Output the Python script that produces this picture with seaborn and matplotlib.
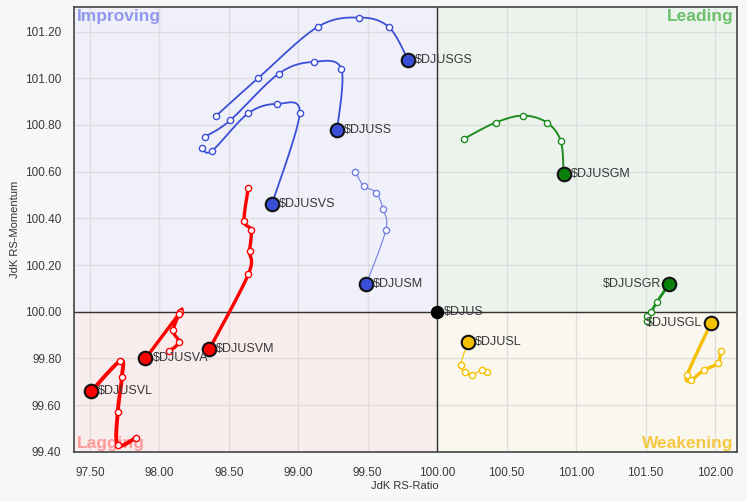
import numpy as np
import pandas as pd
import matplotlib
matplotlib.use("Agg")
import matplotlib.pyplot as plt
from matplotlib.patches import Rectangle
import seaborn as sns

# tails: oldest point first, head (latest) last
gs_x = [98.41, 98.71, 99.14, 99.44, 99.65, 99.79]
gs_y = [100.84, 101.00, 101.22, 101.26, 101.22, 101.08]
ss_x = [98.33, 98.51, 98.86, 99.11, 99.31, 99.28]
ss_y = [100.75, 100.82, 101.02, 101.07, 101.04, 100.78]
vs_x = [98.31, 98.38, 98.64, 98.85, 99.01, 98.81]
vs_y = [100.70, 100.69, 100.85, 100.89, 100.85, 100.46]
m_x = [99.41, 99.47, 99.56, 99.61, 99.63, 99.49]
m_y = [100.60, 100.54, 100.51, 100.44, 100.35, 100.12]
vm_x = [98.64, 98.61, 98.66, 98.65, 98.64, 98.36]
vm_y = [100.53, 100.39, 100.35, 100.26, 100.16, 99.84]
va_x = [98.07, 98.14, 98.10, 98.15, 98.14, 97.90]
va_y = [99.83, 99.87, 99.92, 100.00, 99.99, 99.80]
vl_x = [97.83, 97.70, 97.70, 97.73, 97.72, 97.51]
vl_y = [99.46, 99.43, 99.57, 99.72, 99.79, 99.66]
gm_x = [100.19, 100.42, 100.62, 100.79, 100.89, 100.91]
gm_y = [100.74, 100.81, 100.84, 100.81, 100.73, 100.59]
gr_x = [101.51, 101.51, 101.54, 101.58, 101.67]
gr_y = [99.96, 99.98, 100.00, 100.04, 100.12]
gl_x = [102.04, 102.02, 101.92, 101.83, 101.80, 101.97]
gl_y = [99.83, 99.78, 99.75, 99.71, 99.73, 99.95]
l_x = [100.36, 100.32, 100.25, 100.20, 100.17, 100.22]
l_y = [99.74, 99.75, 99.73, 99.74, 99.77, 99.87]
bench_x = [100.0]
bench_y = [100.0]

# name, x, y, line colour, head colour, line width, label side
series = [
    ("$DJUSGS", gs_x, gs_y, "#3b4fd6", "#3b4fd6", 1.3, "right"),
    ("$DJUSS", ss_x, ss_y, "#3b4fd6", "#3b4fd6", 1.3, "right"),
    ("$DJUSVS", vs_x, vs_y, "#3b4fd6", "#3b4fd6", 1.3, "right"),
    ("$DJUSM", m_x, m_y, "#6f7fe4", "#3b4fd6", 0.8, "right"),
    ("$DJUSVM", vm_x, vm_y, "#ff0000", "#ff0000", 2.4, "right"),
    ("$DJUSVA", va_x, va_y, "#ff0000", "#ff0000", 2.4, "right"),
    ("$DJUSVL", vl_x, vl_y, "#ff0000", "#ff0000", 2.8, "right"),
    ("$DJUSGM", gm_x, gm_y, "#1e8c1e", "#0a800a", 1.4, "right"),
    ("$DJUSGR", gr_x, gr_y, "#1e8c1e", "#0a800a", 2.0, "left"),
    ("$DJUSGL", gl_x, gl_y, "#f5c000", "#f5c000", 2.4, "left"),
    ("$DJUSL", l_x, l_y, "#f5c000", "#f5c000", 0.8, "right"),
]


def smooth(xs, ys, n=20):
    # catmull-rom spline through the tail points
    p = np.column_stack([xs, ys])
    p = np.vstack([p[0], p, p[-1]])
    out = []
    for i in range(1, len(p) - 2):
        p0, p1, p2, p3 = p[i - 1], p[i], p[i + 1], p[i + 2]
        for t in np.linspace(0, 1, n, endpoint=False):
            t2, t3 = t * t, t * t * t
            out.append(0.5 * ((2 * p1) + (-p0 + p2) * t + (2 * p0 - 5 * p1 + 4 * p2 - p3) * t2
                              + (-p0 + 3 * p1 - 3 * p2 + p3) * t3))
    out.append(p[-2])
    out = np.array(out)
    return out[:, 0], out[:, 1]


sns.set_theme(style="white")
plt.rcParams["font.family"] = ["Liberation Sans", "DejaVu Sans"]

fig = plt.figure(figsize=(7.47, 5.01), dpi=100, facecolor="#f6f7f9")
ax = fig.add_axes([0.099, 0.098, 0.887, 0.888])

xmin, xmax, ymin, ymax = 97.385, 102.155, 99.40, 101.305
cx, cy = bench_x[0], bench_y[0]
quads = [
    (xmin, cy, cx - xmin, ymax - cy, "#eff0f9"),
    (cx, cy, xmax - cx, ymax - cy, "#ecf3ed"),
    (xmin, ymin, cx - xmin, cy - ymin, "#f9ecec"),
    (cx, ymin, xmax - cx, cy - ymin, "#faf7ef"),
]
for qx, qy, qw, qh, qc in quads:
    ax.add_patch(Rectangle((qx, qy), qw, qh, facecolor=qc, edgecolor="none", zorder=0))

ax.set_xlim(xmin, xmax)
ax.set_ylim(ymin, ymax)
ax.set_xticks(np.arange(97.5, 102.01, 0.5))
ax.set_yticks(np.arange(99.4, 101.21, 0.2))
ax.xaxis.set_major_formatter(plt.FormatStrFormatter("%.2f"))
ax.yaxis.set_major_formatter(plt.FormatStrFormatter("%.2f"))
ax.grid(True, color="#dedede", linewidth=1, zorder=1)
ax.set_axisbelow(True)
ax.tick_params(length=0, labelsize=8.5, labelcolor="#3a3a3a")
ax.tick_params(axis="x", pad=11)
ax.tick_params(axis="y", pad=9)
for s in ax.spines.values():
    s.set_color("#444444")
    s.set_linewidth(1.2)

ax.axhline(cy, color="#333333", linewidth=1.0, zorder=2)
ax.axvline(cx, color="#333333", linewidth=1.0, zorder=2)

qfont = dict(fontsize=12.5, fontweight="bold")
ax.text(xmin + 0.02, ymax - 0.01, "Improving", color="#8f98ec", va="top", ha="left", **qfont)
ax.text(xmax - 0.02, ymax - 0.01, "Leading", color="#6cc06c", va="top", ha="right", **qfont)
ax.text(xmin + 0.02, ymin + 0.005, "Lagging", color="#ff9a9a", va="bottom", ha="left", **qfont)
ax.text(xmax - 0.02, ymin + 0.005, "Weakening", color="#f5c842", va="bottom", ha="right", **qfont)

for name, xs, ys, lc, hc, lw, side in series:
    sx, sy = smooth(xs, ys)
    curve = pd.DataFrame({"x": sx, "y": sy})
    sns.lineplot(data=curve, x="x", y="y", sort=False, estimator=None, color=lc, linewidth=lw, ax=ax, zorder=3)
    tail = pd.DataFrame({"x": xs[:-1], "y": ys[:-1]})
    sns.scatterplot(data=tail, x="x", y="y", s=20, color="white", edgecolor=lc, linewidth=1.0, ax=ax, zorder=4)
    head = pd.DataFrame({"x": xs[-1:], "y": ys[-1:]})
    sns.scatterplot(data=head, x="x", y="y", s=95, color=hc, edgecolor="#111111", linewidth=1.5, ax=ax, zorder=5)
    off = 5 if side == "right" else -6
    ax.annotate("\\" + name, (xs[-1], ys[-1]), xytext=(off, 0), textcoords="offset points",
                ha="left" if side == "right" else "right", va="center", fontsize=9, color="#383838", zorder=6)

bench = pd.DataFrame({"x": bench_x, "y": bench_y})
sns.scatterplot(data=bench, x="x", y="y", s=80, color="black", edgecolor="black", ax=ax, zorder=5)
ax.annotate("\\$DJUS", (cx, cy), xytext=(5, 0), textcoords="offset points", ha="left", va="center",
            fontsize=9, color="#383838", zorder=6)

ax.set_xlabel("JdK RS-Ratio", fontsize=8, color="#333333", labelpad=1)
ax.set_ylabel("JdK RS-Momentum", fontsize=8, color="#333333", labelpad=4)

fig.savefig("out.png", dpi=100, facecolor=fig.get_facecolor())
